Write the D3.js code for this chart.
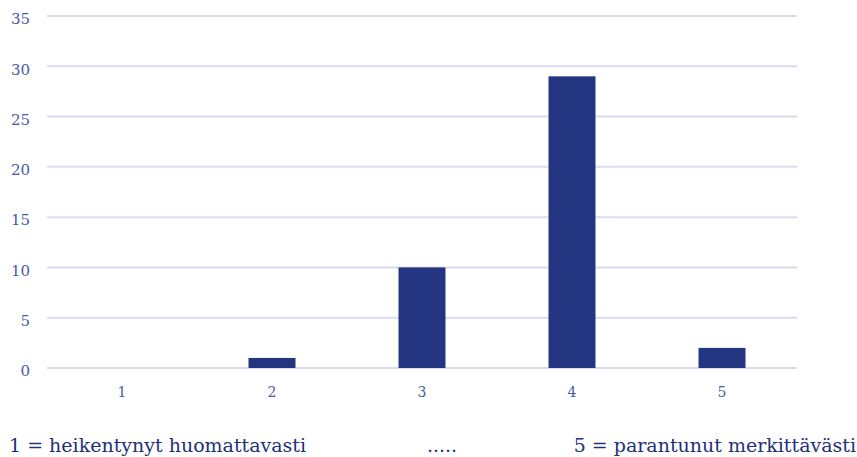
<!DOCTYPE html>
<html>
<head>
<meta charset="utf-8">
<script src="https://cdn.jsdelivr.net/npm/d3@7"></script>
<style>
  body { margin: 0; background: #fff; }
  text { font-family: "DejaVu Serif", "Liberation Serif", serif; }
</style>
</head>
<body>
<div id="chart"></div>
<script>
// data
var categories = ["1", "2", "3", "4", "5"];
var values = [0, 1, 10, 29, 2];
var yTicks = [0, 5, 10, 15, 20, 25, 30, 35];
var footLeft = "1 = heikentynyt huomattavasti";
var footMid = ".....";
var footRight = "5 = parantunut merkittävästi";

var width = 857, height = 457;
var plotLeft = 47, plotRight = 797, plotTop = 16, plotBottom = 368;

var svg = d3.select("#chart")
    .append("svg")
    .attr("width", width)
    .attr("height", height);

var x = d3.scaleBand().domain(categories).range([plotLeft, plotRight])
    .paddingInner(0.687).paddingOuter(0.3435);
var y = d3.scaleLinear().domain([0, 35]).range([plotBottom, plotTop]);

// gridlines
svg.append("g")
    .selectAll("line")
    .data(yTicks)
    .enter()
    .append("line")
    .attr("x1", plotLeft)
    .attr("x2", plotRight)
    .attr("y1", function(d){ return y(d) })
    .attr("y2", function(d){ return y(d) })
    .style("stroke", "#d9dcf0")
    .style("stroke-width", 2);

// y axis labels
var yAxis = d3.axisLeft(y).tickValues(yTicks).tickSize(0).tickPadding(0);
svg.append("g")
    .attr("transform", "translate(30,3)")
    .call(yAxis)
    .call(function(g){ g.select(".domain").remove() })
    .selectAll("text")
    .style("font-size", "15px")
    .style("fill", "#4a5aa6");

// bars
svg.append("g")
    .selectAll("rect")
    .data(values)
    .enter()
    .append("rect")
    .attr("x", function(d, i){ return x(categories[i]) })
    .attr("width", x.bandwidth())
    .attr("y", function(d){ return y(d) })
    .attr("height", function(d){ return y(0) - y(d) })
    .attr("fill", "#233480");

// x axis labels
var xAxis = d3.axisBottom(x).tickSize(0).tickPadding(0);
svg.append("g")
    .attr("transform", "translate(0,387)")
    .call(xAxis)
    .call(function(g){ g.select(".domain").remove() })
    .selectAll("text")
    .style("font-size", "14px")
    .style("fill", "#4a5aa6");

svg.selectAll("g").attr("font-family", null);

// footer
var foot = svg.append("g")
    .style("font-size", "19px")
    .style("fill", "#22307a");
foot.append("text").attr("x", 9).attr("y", 452).text(footLeft);
foot.append("text").attr("x", 442).attr("y", 452).attr("text-anchor", "middle").text(footMid);
foot.append("text").attr("x", 856).attr("y", 452).attr("text-anchor", "end").text(footRight);
</script>
</body>
</html>
